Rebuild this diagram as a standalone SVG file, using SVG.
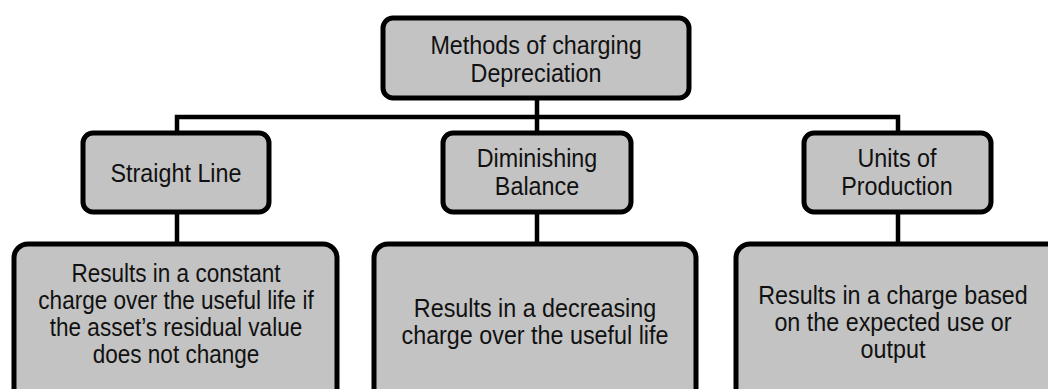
<svg xmlns="http://www.w3.org/2000/svg" width="1048" height="389" viewBox="0 0 1048 389">
<style>
.box{fill:#c3c3c3;stroke:#000;stroke-width:5}
.t{font-family:"Liberation Sans",Arial,sans-serif;font-size:26.5px;fill:#111;text-anchor:middle}
.c{fill:none;stroke:#000;stroke-width:4.5}
</style>
<rect width="1048" height="389" fill="#fff"/>
<g id="connectors">
<path class="c" d="M537 98V132M177 132V117H898V132M177 212V243M537 212V243M898 212V243"/>
</g>
<g id="root">
<rect class="box" x="383" y="18" width="306" height="80" rx="10"/>
<text class="t" transform="translate(536 54) scale(0.88 1)">Methods of charging</text>
<text class="t" transform="translate(536 82) scale(0.88 1)">Depreciation</text>
</g>
<g id="straight">
<rect class="box" x="83" y="133" width="186" height="79" rx="10"/>
<text class="t" transform="translate(176 182) scale(0.88 1)">Straight Line</text>
</g>
<g id="diminishing">
<rect class="box" x="443" y="133" width="188" height="79" rx="10"/>
<text class="t" transform="translate(537 167) scale(0.88 1)">Diminishing</text>
<text class="t" transform="translate(537 195) scale(0.88 1)">Balance</text>
</g>
<g id="units">
<rect class="box" x="804" y="133" width="187" height="79" rx="10"/>
<text class="t" transform="translate(897 167) scale(0.88 1)">Units of</text>
<text class="t" transform="translate(897 195) scale(0.88 1)">Production</text>
</g>
<g id="straight-desc">
<rect class="box" x="14" y="244" width="323" height="160" rx="14"/>
<text class="t" transform="translate(176 282) scale(0.85 1)">Results in a constant</text>
<text class="t" transform="translate(176 309) scale(0.85 1)">charge over the useful life if</text>
<text class="t" transform="translate(176 336) scale(0.85 1)">the asset’s residual value</text>
<text class="t" transform="translate(176 363) scale(0.85 1)">does not change</text>
</g>
<g id="diminishing-desc">
<rect class="box" x="374" y="244" width="322" height="160" rx="14"/>
<text class="t" transform="translate(535 317) scale(0.88 1)">Results in a decreasing</text>
<text class="t" transform="translate(535 344) scale(0.88 1)">charge over the useful life</text>
</g>
<g id="units-desc">
<rect class="box" x="736" y="244" width="330" height="160" rx="14"/>
<text class="t" transform="translate(893 304) scale(0.88 1)">Results in a charge based</text>
<text class="t" transform="translate(893 331) scale(0.88 1)">on the expected use or</text>
<text class="t" transform="translate(893 358) scale(0.88 1)">output</text>
</g>
</svg>
